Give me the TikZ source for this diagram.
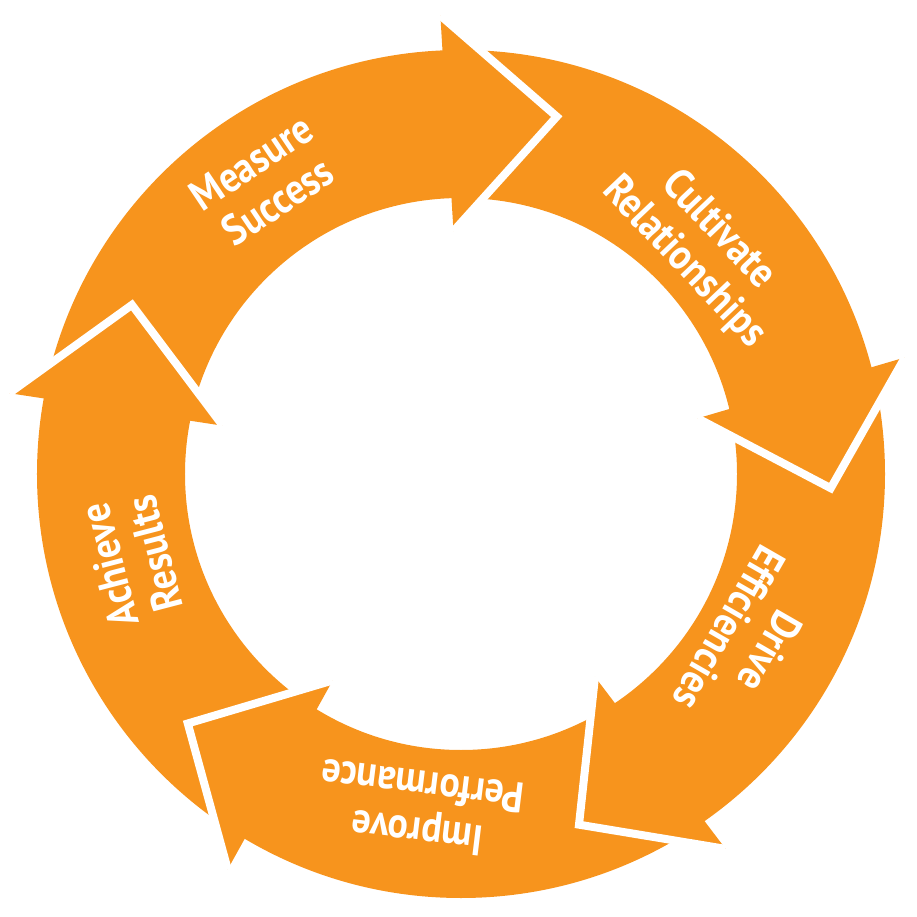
\documentclass[tikz,border=0pt]{standalone}
\usepackage{fontspec}
\setmainfont{PT Sans}[FakeStretch=0.88]
\usetikzlibrary{calc}
\definecolor{cycleorange}{HTML}{F7941D}

\begin{document}
\begin{tikzpicture}[x=1pt, y=1pt,
  ring/.style={fill=cycleorange, even odd rule},
  head/.style={fill=cycleorange, draw=white, line width=8pt, line join=miter},
  steplabel/.style={text=white, font=\bfseries\fontsize{43}{47}\selectfont, align=center}]
\useasboundingbox (-461,-443) rectangle (456,474);

% the ring itself
\fill[ring] (0,0) circle (424) (0,0) circle (276);

% arrow heads: base middle angle / tip angle
\foreach \b/\t [count=\i] in {92.3/75.0, 14.2/-2.2, -55.4/-71.4, -121.0/-137.6, 169.4/152.8}
{
  \coordinate (base\i) at (\b:351);
  \coordinate (tip\i) at (\t:370);
  \filldraw[head] ($(base\i)!108pt!90:(tip\i)$) -- (tip\i) -- ($(base\i)!108pt!-90:(tip\i)$);
}

% labels
\node[steplabel, rotate=33.9]   (measure)   at (123.9:352) {Measure\\Success};
\node[steplabel, rotate=-46.5]  (cultivate) at (43.5:331)  {Cultivate\\Relationships};
\node[steplabel, rotate=-119.9] (drive)     at (-29.9:333) {Drive\\Efficiencies};
\node[steplabel, rotate=-187]   (improve)   at (-97:338)   {Improve\\Performance};
\node[steplabel, rotate=104.6]  (achieve)   at (194.6:340) {Achieve\\Results};
\end{tikzpicture}
\end{document}
